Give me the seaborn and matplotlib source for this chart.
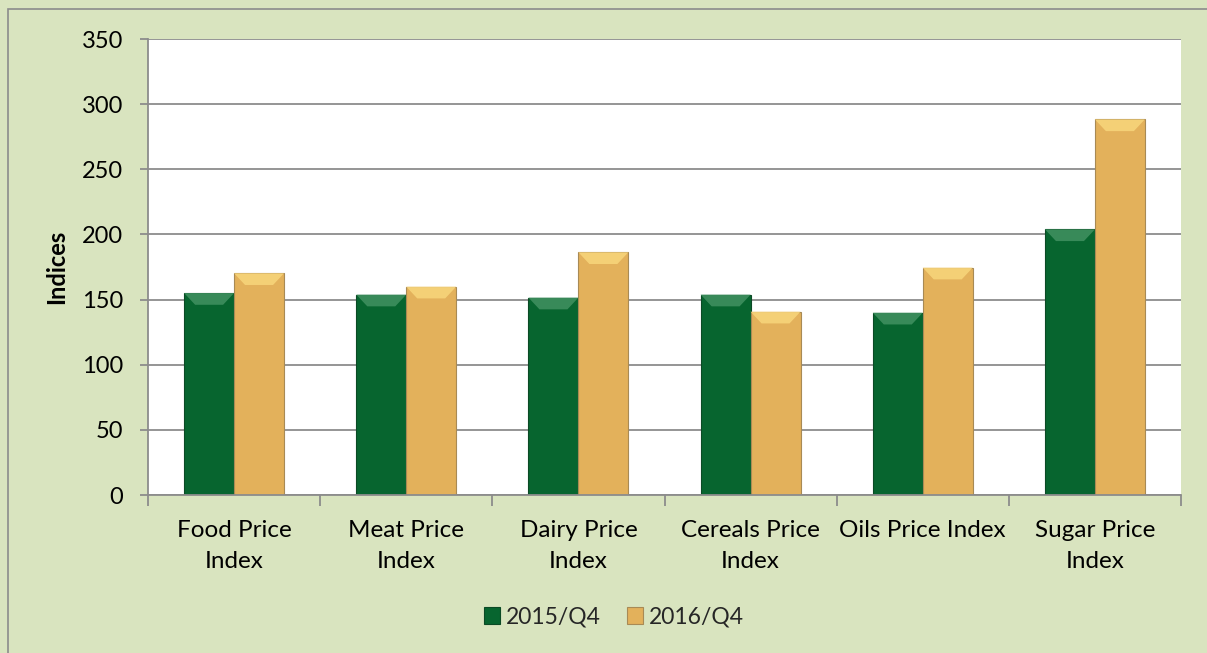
import matplotlib.pyplot as plt
import numpy as np
import pandas as pd
import seaborn as sns
from matplotlib.patches import Polygon, Rectangle

CATEGORIES = [
    "Food Price\nIndex",
    "Meat Price\nIndex",
    "Dairy Price\nIndex",
    "Cereals Price\nIndex",
    "Oils Price Index",
    "Sugar Price\nIndex",
]
SERIES = ["2015/Q4", "2016/Q4"]
VALUES_2015 = [155.0, 153.8, 151.5, 153.8, 139.9, 203.9]
VALUES_2016 = [170.2, 159.9, 186.3, 140.7, 174.5, 288.3]
Y_TICKS = [0, 50, 100, 150, 200, 250, 300, 350]

GREEN = "#07652f"
GOLD = "#e3b15b"
EDGES = {GREEN: "#0b4a25", GOLD: "#a88a55"}
BEVEL = {GREEN: "#3e8f5e", GOLD: "#f7d47a"}
BG = "#d9e4bf"
GRID = "#8c8c8c"


def add_bevel(ax, bar, color):
    # light top facet to mimic the bevelled Excel bars
    x0, w, h = bar.get_x(), bar.get_width(), bar.get_height()
    depth = 9.0
    inset = w * 0.22
    pts = [(x0, h), (x0 + w, h), (x0 + w - inset, h - depth), (x0 + inset, h - depth)]
    ax.add_patch(Polygon(pts, closed=True, facecolor=BEVEL[color], edgecolor="none",
                         alpha=0.9, zorder=bar.get_zorder() + 0.1))


def main():
    df = pd.DataFrame(
        {
            "category": CATEGORIES * 2,
            "series": [SERIES[0]] * len(CATEGORIES) + [SERIES[1]] * len(CATEGORIES),
            "value": VALUES_2015 + VALUES_2016,
        }
    )

    sns.set_theme(style="white")
    plt.rcParams["font.family"] = ["Lato", "DejaVu Sans"]

    fig = plt.figure(figsize=(12.07, 6.53), dpi=100, facecolor=BG)
    fig.patches.append(
        Rectangle((8 / 1207, -0.01), 1.02, 1 - 9 / 653 + 0.01, transform=fig.transFigure,
                  fill=False, edgecolor="#8c8c8c", linewidth=1.2)
    )
    ax = fig.add_axes([148 / 1207, 1 - 495 / 653, (1181 - 148) / 1207, (495 - 39) / 653])
    ax.set_facecolor("white")

    sns.barplot(
        data=df, x="category", y="value", hue="series", ax=ax,
        palette=[GREEN, GOLD], width=0.58, saturation=1, linewidth=0.8, legend=True,
    )

    for i, bar in enumerate(list(ax.patches)[: 2 * len(CATEGORIES)]):
        color = GREEN if i < len(CATEGORIES) else GOLD
        bar.set_edgecolor(EDGES[color])
        add_bevel(ax, bar, color)

    ax.set_ylim(0, 350)
    ax.set_xlim(-0.5, len(CATEGORIES) - 0.5)
    ax.set_yticks(Y_TICKS)
    ax.yaxis.grid(True, color=GRID, linewidth=1.3)
    ax.set_axisbelow(True)
    for side in ["top", "right"]:
        ax.spines[side].set_visible(False)
    for side in ["left", "bottom"]:
        ax.spines[side].set_color(GRID)
        ax.spines[side].set_linewidth(1.3)

    ax.tick_params(axis="y", which="both", left=True, length=6, width=1.3, color=GRID,
                   labelsize=17, pad=12, labelcolor="black")
    ax.set_xticks(np.arange(len(CATEGORIES)))
    ax.set_xticklabels(CATEGORIES, fontsize=17.5, linespacing=1.6, color="black")
    ax.tick_params(axis="x", which="major", bottom=False, pad=12)
    ax.set_xticks(np.arange(len(CATEGORIES) + 1) - 0.5, minor=True)
    ax.tick_params(axis="x", which="minor", bottom=True, length=8, width=1.3, color=GRID)

    ax.set_xlabel("")
    ax.set_ylabel("Indices", fontsize=17, fontweight="bold", labelpad=10, color="black")

    leg = ax.legend(
        loc="center", bbox_to_anchor=((614 - 148) / 1033, (495 - 617) / 456),
        ncol=2, frameon=False, fontsize=16.5, handlelength=0.7, handleheight=0.7,
        handletextpad=0.26, columnspacing=1.13, title=None,
    )
    for handle, color in zip(leg.legend_handles, [GREEN, GOLD]):
        handle.set_edgecolor(EDGES[color])

    fig.savefig("out.png", dpi=100, facecolor=BG)


if __name__ == "__main__":
    main()
